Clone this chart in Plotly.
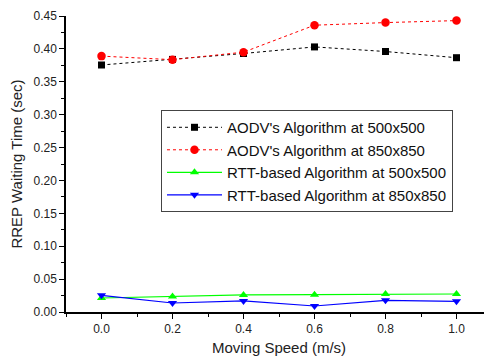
import plotly.graph_objects as go

speed = [0.0, 0.2, 0.4, 0.6, 0.8, 1.0]
aodv_500 = [0.3755, 0.384, 0.393, 0.403, 0.396, 0.3866]
aodv_850 = [0.389, 0.3836, 0.395, 0.436, 0.440, 0.443]
rtt_500 = [0.0213, 0.0234, 0.0260, 0.0264, 0.0274, 0.0274]
rtt_850 = [0.0254, 0.0137, 0.0168, 0.0091, 0.0178, 0.0163]

names = ["AODV's Algorithm at 500x500", "AODV's Algorithm at 850x850",
         "RTT-based Algorithm at 500x500", "RTT-based Algorithm at 850x850"]

fig = go.Figure()
fig.add_trace(go.Scatter(x=speed, y=aodv_500, name=names[0], mode="lines+markers",
                         line=dict(color="black", width=1, dash="dot"),
                         marker=dict(symbol="square", size=7, color="black")))
fig.add_trace(go.Scatter(x=speed, y=aodv_850, name=names[1], mode="lines+markers",
                         line=dict(color="red", width=1, dash="dot"),
                         marker=dict(symbol="circle", size=8.5, color="red")))
fig.add_trace(go.Scatter(x=speed, y=rtt_500, name=names[2], mode="lines+markers",
                         line=dict(color="#00ff00", width=1.2),
                         marker=dict(symbol="triangle-up", size=8, color="#00ff00")))
fig.add_trace(go.Scatter(x=speed, y=rtt_850, name=names[3], mode="lines+markers",
                         line=dict(color="blue", width=1.2),
                         marker=dict(symbol="triangle-down", size=8, color="blue")))

fig.update_layout(
    width=484, height=348,
    margin=dict(l=58, r=0, t=8, b=44),
    plot_bgcolor="white", paper_bgcolor="white",
    font=dict(family="Liberation Sans, Arial, sans-serif", color="#222", size=12),
    legend=dict(x=0.223, y=0.51, xanchor="left", yanchor="middle",
                bgcolor="white", bordercolor="#444", borderwidth=1,
                itemwidth=55,
                font=dict(size=15, color="#111"), tracegroupgap=0),
    xaxis=dict(range=[-0.1, 1.1], tickvals=speed, ticktext=["0.0", "0.2", "0.4", "0.6", "0.8", "1.0"],
               showgrid=False, zeroline=False, showline=True, linecolor="black", linewidth=1.5,
               ticks="outside", ticklen=5, tickcolor="black", automargin=False,
               minor=dict(ticks="outside", ticklen=3, tickcolor="black", tickvals=[-0.1, 0.1, 0.3, 0.5, 0.7, 0.9]),
               title=dict(text="Moving Speed (m/s)", font=dict(size=15), standoff=8)),
    yaxis=dict(range=[0, 0.45], dtick=0.05, tickformat=".2f",
               showgrid=False, zeroline=False, showline=True, linecolor="black", linewidth=1.5,
               ticks="outside", ticklen=5, tickcolor="black", automargin=False,
               minor=dict(ticks="outside", ticklen=3, tickcolor="black", dtick=0.025),
               title=dict(text="RREP Waiting Time (sec)", font=dict(size=15), standoff=7)),
)

fig.write_html("out.html")
